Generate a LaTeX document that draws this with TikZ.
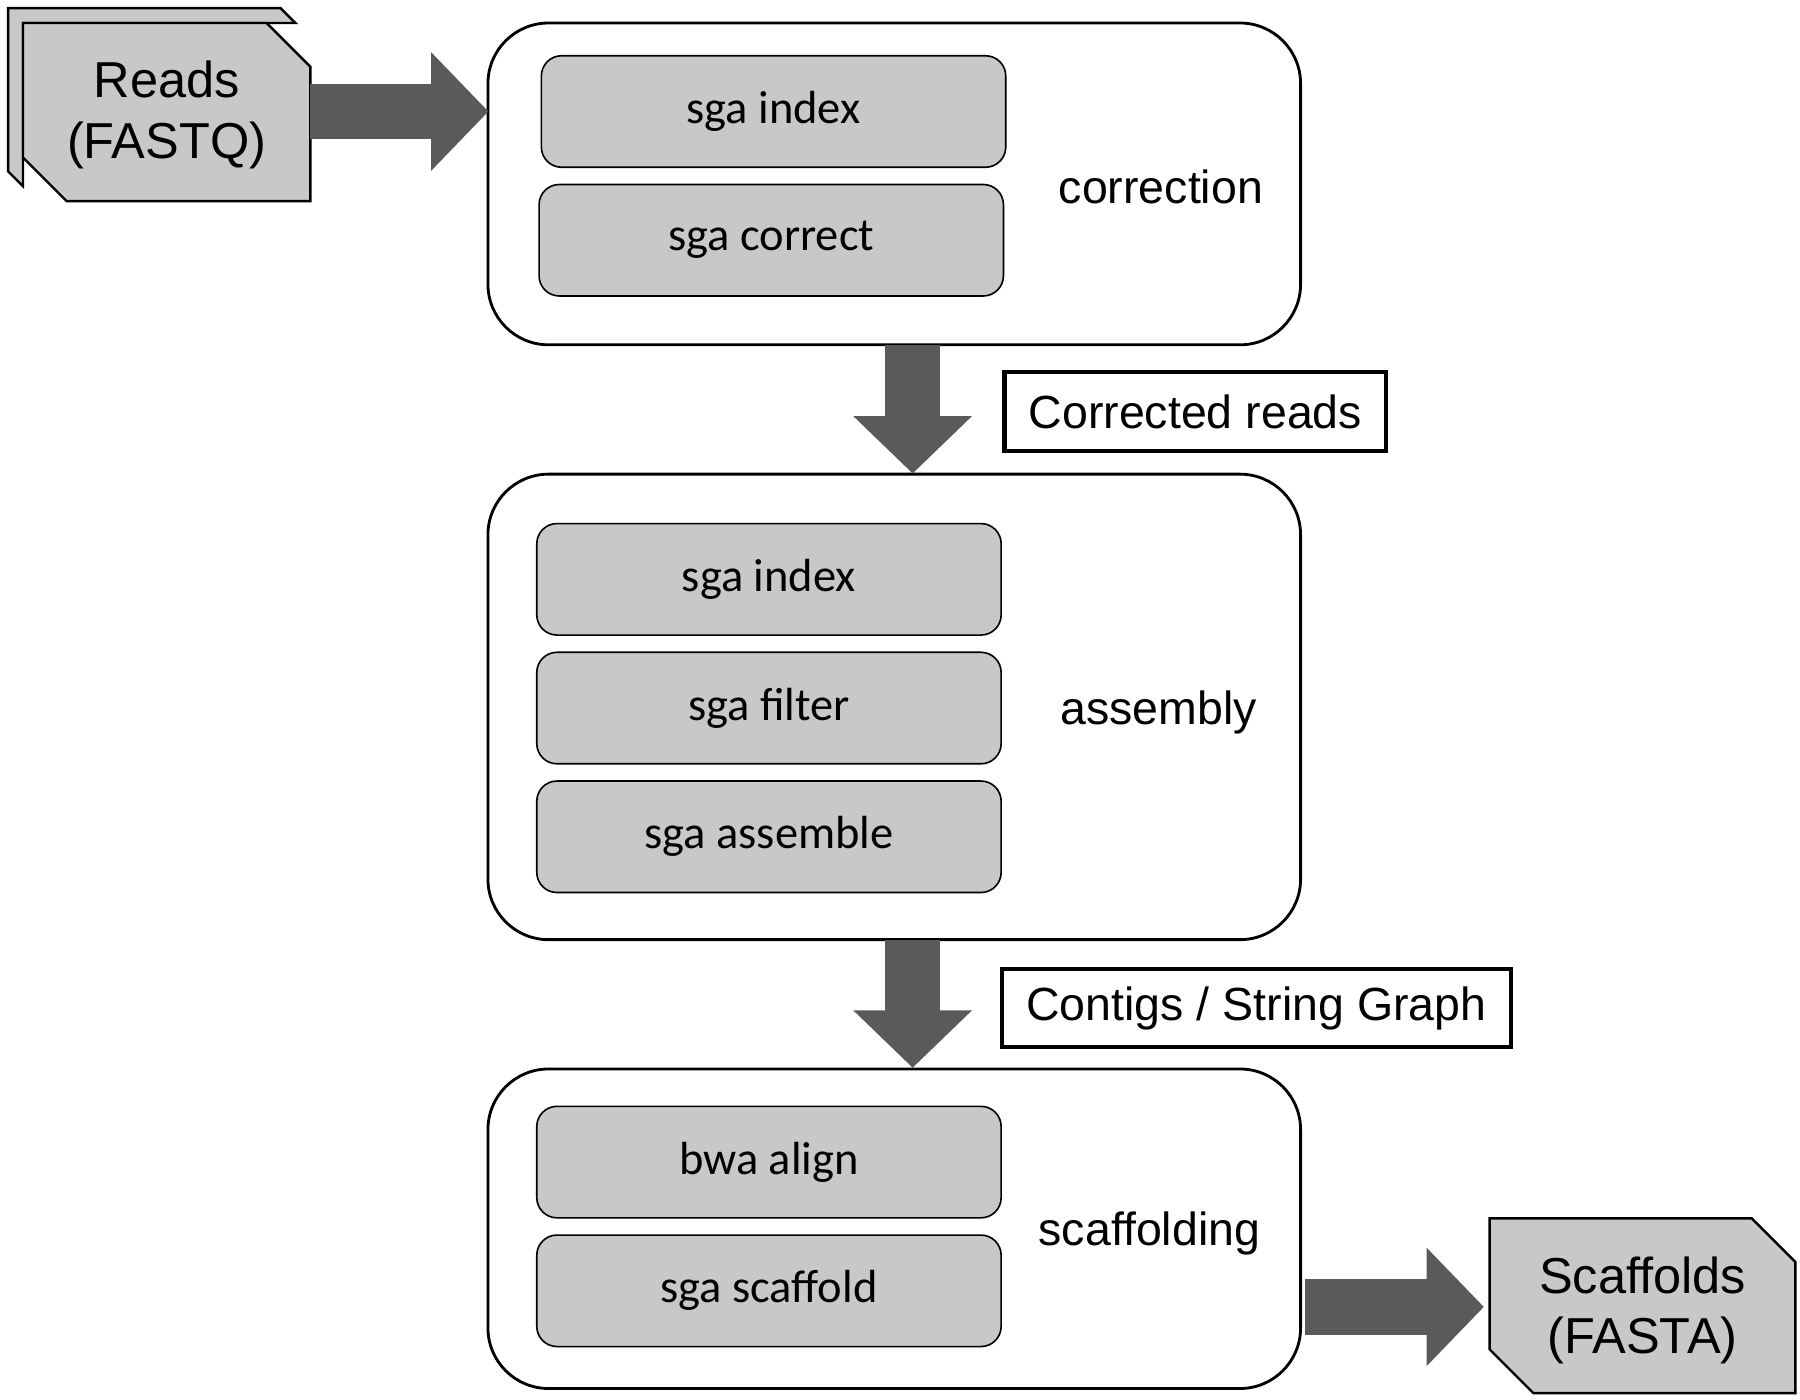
\documentclass[tikz,border=0pt]{standalone}
\usepackage{fontspec}
\setmainfont{Liberation Sans}
\newfontfamily\calib{Carlito}
\usetikzlibrary{arrows.meta, positioning}
\definecolor{toolgray}{HTML}{C8C8C8}
\definecolor{arrowgray}{HTML}{5A5A5A}

\begin{document}
\begin{tikzpicture}[x=0.01cm, y=-0.01cm,
  stage/.style={draw, rounded corners=15pt, line width=0.7pt},
  tool/.style={draw, fill=toolgray, rounded corners=5pt, minimum width=404*0.01cm,
    minimum height=97*0.01cm, font=\calib\fontsize{11.5}{13}\selectfont},
  tag/.style={font=\fontsize{11.5}{13}\selectfont},
  note/.style={draw, line width=1pt, inner xsep=6pt, minimum height=68*0.01cm,
    font=\fontsize{11.5}{13}\selectfont},
  flow/.style={draw=arrowgray!70!black, line width=13.7pt, arrowgray,
    -{Triangle[width=28.5pt, length=14.2pt]}},
  file/.style={draw, fill=toolgray, line width=0.6pt},
  ]
  \useasboundingbox (0,0) rectangle (1566,1218);

  % input files
  \draw[file] (7,7) -- (244,7) -- (257,20) -- (20,20) -- (20,162) -- (7,149) -- cycle;
  \draw[file] (20,20) -- (232,20) -- (270,58) -- (270,175) -- (58,175) -- (20,137) -- cycle;
  \node[align=center, font=\fontsize{12.5}{15}\selectfont] (reads) at (145,100) {Reads\\(FASTQ)};
  \coordinate (readsout) at (270,97);

  % stages
  \node[stage, minimum width=707*0.01cm, minimum height=280*0.01cm] (corr) at (778,160) {};
  \node[stage, minimum width=707*0.01cm, minimum height=405*0.01cm] (asm) at (778,615) {};
  \node[stage, minimum width=707*0.01cm, minimum height=278*0.01cm] (scaf) at (778,1069) {};

  \node[tool] (idx1) at (673,97) {sga index};
  \node[tool] (cor) at (671,209) {sga correct};
  \node[tag] at (1010,163) {correction};

  \node[tool] (idx2) at (669,504) {sga index};
  \node[tool] (filt) at (669,616) {sga filter};
  \node[tool] (assem) at (669,728) {sga assemble};
  \node[tag] at (1008,620) {assembly};

  \node[tool] (aln) at (669,1011) {bwa align};
  \node[tool] (sc) at (669,1123) {sga scaffold};
  \node[tag] at (1000,1073) {scaffolding};

  % output file
  \draw[file] (1296,1060) -- (1524,1060) -- (1562,1098) -- (1562,1212) -- (1334,1212) -- (1296,1174) -- cycle;
  \node[align=center, font=\fontsize{12.5}{15}\selectfont] (out) at (1429,1140) {Scaffolds\\(FASTA)};

  % notes
  \node[note] (n1) at (1040,358) {Corrected reads};
  \node[note] (n2) at (1093,877) {Contigs / String Graph};

  % flows
  \coordinate (c1s) at (794,300);
  \coordinate (c2n) at (794,412);
  \coordinate (c2s) at (794,818);
  \coordinate (c3n) at (794,929);
  \coordinate (c3e) at (1135,1137);
  \coordinate (outw) at (1291,1137);
  \coordinate (corrw) at (425,97);
  \draw[flow] (readsout) -- (corrw);
  \draw[flow] (c1s) -- (c2n);
  \draw[flow] (c2s) -- (c3n);
  \draw[flow] (c3e) -- (outw);
\end{tikzpicture}
\end{document}
